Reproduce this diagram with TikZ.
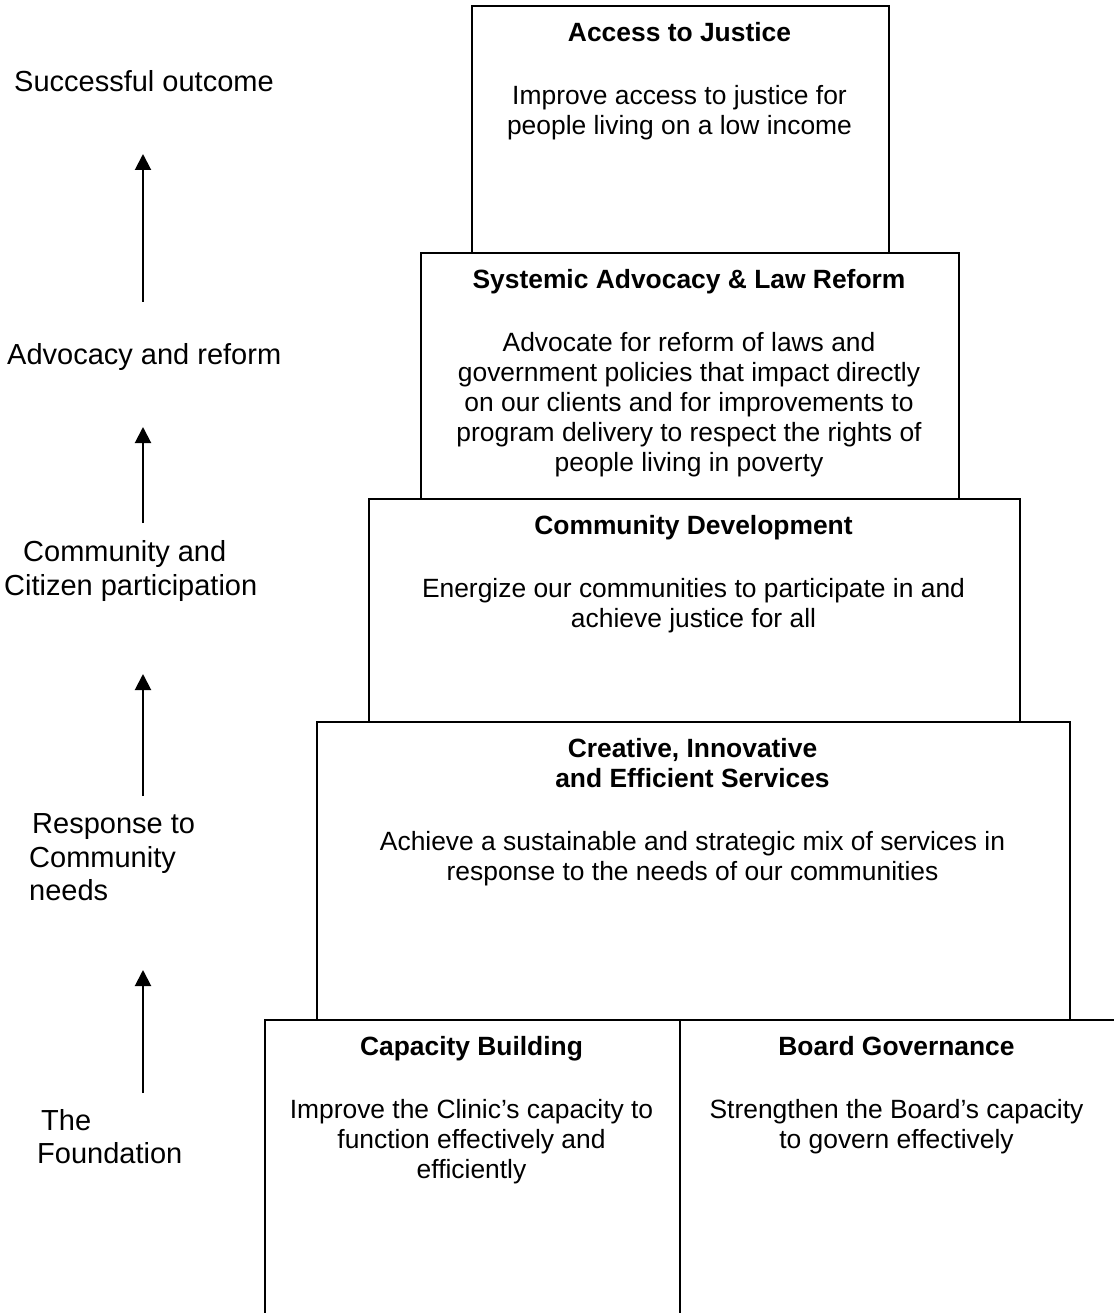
\documentclass[tikz,border=0pt]{standalone}
\usepackage{fontspec}
\setmainfont{Liberation Sans}
\usetikzlibrary{arrows.meta}
\begin{document}
\begin{tikzpicture}[x=1pt,y=-1pt,
  box/.style={draw, line width=1.8pt, rectangle, inner sep=0pt, anchor=north west},
  ttl/.style={font=\fontsize{26.4}{30}\selectfont\bfseries, align=center, anchor=north, inner sep=0pt},
  bodytxt/.style={font=\fontsize{26.4}{30}\selectfont, align=center, anchor=north, inner sep=0pt},
  lab/.style={font=\fontsize{29}{33.3}\selectfont, anchor=base west, inner sep=0pt},
  uparrow/.style={-{Triangle[length=16pt,width=16pt]}, line width=2pt}]
\useasboundingbox (0,0) rectangle (1113,1313);
\fill[white] (0,0) rectangle (1113,1313);

% boxes
\node[box, minimum width=417pt, minimum height=247pt] (b1) at (471,5) {};
\node[box, minimum width=538pt, minimum height=246pt] (b2) at (420,252) {};
\node[box, minimum width=651pt, minimum height=223pt] (b3) at (368,498) {};
\node[box, minimum width=753pt, minimum height=298pt] (b4) at (316,721) {};
\node[box, minimum width=415pt, minimum height=330pt] (b5) at (264,1019) {};
\node[box, minimum width=435pt, minimum height=330pt] (b6) at (679,1019) {};

% box texts
\node[ttl] (t1) at (679.5,21.7) {Access to Justice};
\node[bodytxt] (d1) at (679.5,84.7) {Improve access to justice for\\people living on a low income};

\node[ttl] (t2) at (689,268.7) {Systemic Advocacy \& Law Reform};
\node[bodytxt] (d2) at (689,331.7) {Advocate for reform of laws and\\government policies that impact directly\\on our clients and for improvements to\\program delivery to respect the rights of\\people living in poverty};

\node[ttl] (t3) at (693.5,514.7) {Community Development};
\node[bodytxt] (d3) at (693.5,577.7) {Energize our communities to participate in and\\achieve justice for all};

\node[ttl] (t4) at (692.5,737.7) {Creative, Innovative\\and Efficient Services};
\node[bodytxt] (d4) at (692.5,830.7) {Achieve a sustainable and strategic mix of services in\\response to the needs of our communities};

\node[ttl] (t5) at (471.5,1035.7) {Capacity Building};
\node[bodytxt] (d5) at (471.5,1098.7) {Improve the Clinic’s capacity to\\function effectively and\\efficiently};

\node[ttl] (t6) at (896.5,1035.7) {Board Governance};
\node[bodytxt] (d6) at (896.5,1098.7) {Strengthen the Board’s capacity\\to govern effectively};

% left labels
\node[lab] (l1) at (14,91.7) {Successful outcome};
\node[lab] (l2) at (7,364) {Advocacy and reform};
\node[lab] (l3a) at (23,561.7) {Community and};
\node[lab] (l3b) at (4,595) {Citizen participation};
\node[lab] (l4a) at (32,833) {Response to};
\node[lab] (l4b) at (29,867) {Community};
\node[lab] (l4c) at (29,900) {needs};
\node[lab] (l5a) at (41,1130) {The};
\node[lab] (l5b) at (37,1163.5) {Foundation};

% arrows
\coordinate (a1s) at (143,302);
\coordinate (a1e) at (143,154);
\coordinate (a2s) at (143,523);
\coordinate (a2e) at (143,427);
\coordinate (a3s) at (143,796);
\coordinate (a3e) at (143,674);
\coordinate (a4s) at (143,1093);
\coordinate (a4e) at (143,970);
\draw[uparrow] (a1s) -- (a1e);
\draw[uparrow] (a2s) -- (a2e);
\draw[uparrow] (a3s) -- (a3e);
\draw[uparrow] (a4s) -- (a4e);
\end{tikzpicture}
\end{document}
